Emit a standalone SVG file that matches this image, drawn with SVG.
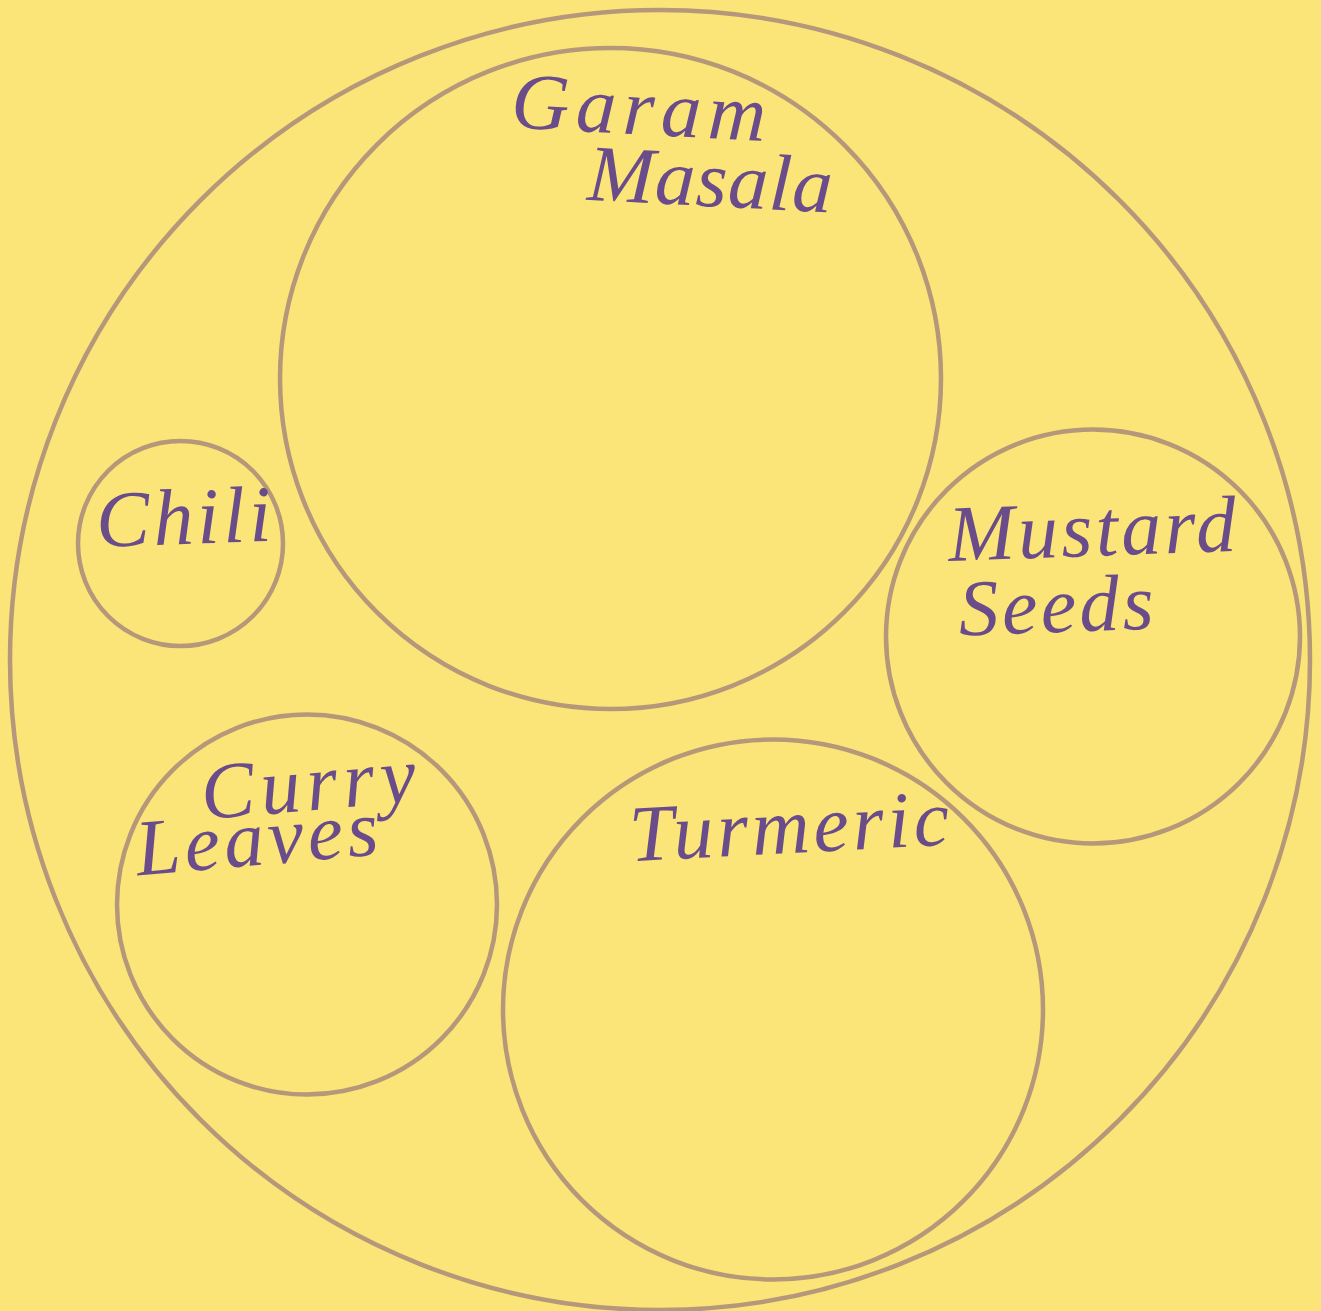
<svg xmlns="http://www.w3.org/2000/svg" width="1321" height="1311" viewBox="0 0 1321 1311">
<style>
.c{fill:none;stroke:#B5977A;stroke-width:4.5}
.t{font-family:"Liberation Serif","DejaVu Serif",serif;font-style:italic;font-size:80px;fill:#6A4C8A}
</style>
<rect width="1321" height="1311" fill="#FBE478"/>
<g id="all"><circle class="c" cx="660" cy="660" r="650"/></g>
<g id="garam-masala"><circle class="c" cx="610.5" cy="378.5" r="330.5"/>
<text class="t" transform="rotate(3 670 135)"><tspan x="510" y="136" textLength="255" lengthAdjust="spacing">Garam</tspan><tspan x="590" y="204" textLength="245" lengthAdjust="spacing">Masala</tspan></text></g>
<g id="chili"><circle class="c" cx="180.5" cy="543.5" r="102.5"/>
<text class="t" x="97" y="544" textLength="175" lengthAdjust="spacing" transform="rotate(-2 180 543)">Chili</text></g>
<g id="mustard-seeds"><circle class="c" cx="1093" cy="636.5" r="207"/>
<text class="t" transform="rotate(-2 1090 590)"><tspan x="950" y="556" textLength="288" lengthAdjust="spacing">Mustard</tspan><tspan x="958" y="631" textLength="195" lengthAdjust="spacing">Seeds</tspan></text></g>
<g id="curry-leaves"><circle class="c" cx="307" cy="904.5" r="190"/>
<text class="t" transform="rotate(-5 280 835)"><tspan x="205" y="813" textLength="215" lengthAdjust="spacing">Curry</tspan><tspan x="135" y="863" textLength="243" lengthAdjust="spacing">Leaves</tspan></text></g>
<g id="turmeric"><circle class="c" cx="773" cy="1009.5" r="270"/>
<text class="t" x="630" y="853" textLength="320" lengthAdjust="spacing" transform="rotate(-3 790 845)">Turmeric</text></g>
<g id="connectors"/>
</svg>
